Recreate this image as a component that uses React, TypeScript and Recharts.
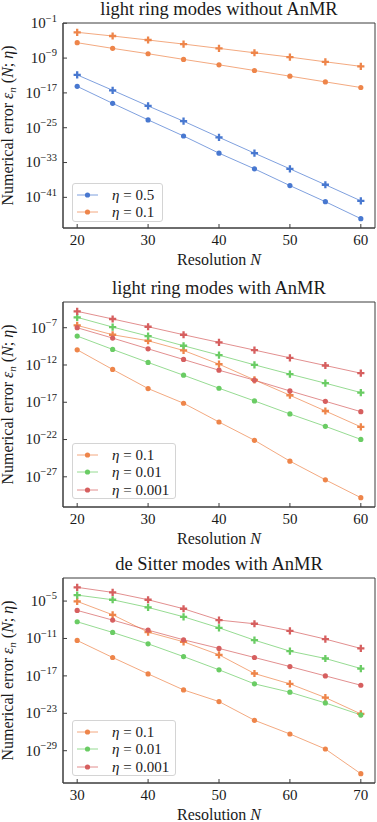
import React from 'react';
import { LineChart, Line, XAxis, YAxis, ReferenceArea } from 'recharts';

const FONT = '"Liberation Serif", "DejaVu Serif", serif';
const INK = '#1a1a1a';
const FRAME = '#3c3c3c';

const BLUE = '#4878d0';
const ORANGE = '#ee854a';
const GREEN = '#6acc64';
const RED = '#d65f5f';

// resolutions on the x axis
const lightRingN = [20, 25, 30, 35, 40, 45, 50, 55, 60];
const deSitterN = [30, 35, 40, 45, 50, 55, 60, 65, 70];

// log10 of the numerical error
// panel 1: light ring modes without AnMR
const noAnmrEta05Dot = [-15.5, -19.4, -23.2, -26.9, -30.85, -34.45, -38.3, -42.0, -45.9];
const noAnmrEta05Plus = [-12.86, -16.4, -20.0, -23.5, -27.2, -30.85, -34.45, -38.1, -41.8];
const noAnmrEta01Dot = [-5.47, -6.77, -8.0, -9.3, -10.55, -11.85, -13.16, -14.47, -15.76];
const noAnmrEta01Plus = [-3.08, -3.93, -4.85, -5.78, -6.77, -7.78, -8.77, -9.86, -10.9];

// panel 2: light ring modes with AnMR
const anmrEta01Dot = [-9.96, -12.6, -15.16, -17.13, -19.65, -22.1, -24.9, -27.4, -29.8];
const anmrEta01Plus = [-6.69, -7.94, -8.75, -10.05, -11.89, -14.0, -16.06, -18.17, -20.3];
const anmrEta001Dot = [-8.12, -9.91, -11.66, -13.37, -15.12, -16.82, -18.57, -20.23, -21.98];
const anmrEta001Plus = [-5.61, -6.91, -8.12, -9.42, -10.68, -11.98, -13.23, -14.44, -15.7];
const anmrEta0001Dot = [-7.0, -8.39, -9.83, -11.26, -12.7, -14.04, -15.48, -16.87, -18.26];
const anmrEta0001Plus = [-4.8, -5.83, -6.87, -7.94, -8.97, -10.0, -11.04, -12.07, -13.1];

// panel 3: de Sitter modes with AnMR
const dsEta01Dot = [-11.32, -14.05, -16.68, -19.25, -21.12, -24.12, -26.32, -28.73, -32.69];
const dsEta01Plus = [-5.05, -7.2, -9.98, -11.53, -13.62, -16.62, -18.28, -20.48, -23.1];
const dsEta001Dot = [-8.32, -10.03, -11.86, -13.9, -16.03, -18.28, -19.62, -21.34, -23.26];
const dsEta001Plus = [-4.04, -4.79, -6.02, -7.52, -9.29, -11.27, -13.03, -14.21, -15.82];
const dsEta0001Dot = [-6.5, -8.05, -9.66, -11.21, -12.6, -14.05, -15.5, -17.0, -18.5];
const dsEta0001Plus = [-2.8, -3.61, -4.79, -6.23, -8.05, -8.64, -9.77, -11.1, -12.6];

// tick positions (x) and tick exponents (y)
const lightRingXTicks = [20, 30, 40, 50, 60];
const deSitterXTicks = [30, 40, 50, 60, 70];
const noAnmrYTicks = [-1, -9, -17, -25, -33, -41];
const anmrYTicks = [-7, -12, -17, -22, -27];
const dsYTicks = [-5, -11, -17, -23, -29];

const PLOT_LEFT = 63;
const PLOT_RIGHT_MARGIN = 2;
const PLOT_TOP = 23;
const PLOT_H = 205;
const PLOT_W = 377 - PLOT_LEFT - PLOT_RIGHT_MARGIN;

type Series = { key: string; values: number[]; color: string; marker: 'dot' | 'plus' };
type LegendItem = { eta: string; color: string };

const circleDot = (color: string) => (p: any) => (
  <circle key={`c-${p.index}`} cx={p.cx} cy={p.cy} r={2.6} fill={color} stroke="none" />
);

const plusDot = (color: string) => (p: any) => {
  const { cx, cy } = p;
  const a = 3.6;
  const w = 1.15;
  const d = `M${cx - w},${cy - a}H${cx + w}V${cy - w}H${cx + a}V${cy + w}H${cx + w}V${cy + a}H${cx - w}V${cy + w}H${cx - a}V${cy - w}H${cx - w}Z`;
  return <path key={`p-${p.index}`} d={d} fill={color} stroke="none" />;
};

const XTick = (p: any) => (
  <g>
    <line x1={p.x} x2={p.x} y1={p.y} y2={p.y - 4} stroke={FRAME} strokeWidth={1} />
    <text x={p.x} y={p.y + 17} textAnchor="middle" fontFamily={FONT} fontSize={15} fill={INK}>
      {p.payload.value}
    </text>
  </g>
);

const YTick = (p: any) => {
  const e = Math.round(Math.log10(p.payload.value));
  return (
    <g>
      <line x1={p.x} x2={p.x + 4} y1={p.y} y2={p.y} stroke={FRAME} strokeWidth={1} />
      <text x={p.x - 6} y={p.y + 4.8} textAnchor="end" fontFamily={FONT} fontSize={15} fill={INK}>
        10
        <tspan dy={-6.5} fontSize={10.5}>{'\u2212' + Math.abs(e)}</tspan>
      </text>
    </g>
  );
};

const Legend = ({ items, top, width }: { items: LegendItem[]; top: number; width: number }) => (
  <div
    style={{
      position: 'absolute',
      left: 72,
      top,
      width,
      height: 21 + 17.6 * (items.length - 1),
      border: '1px solid #d4d4d4',
      borderRadius: 3,
      background: 'rgba(255,255,255,0.8)',
      boxSizing: 'border-box',
      fontFamily: FONT,
      fontSize: 15,
      color: INK,
    }}
  >
    {items.map((it, i) => (
      <div
        key={it.eta}
        style={{ position: 'absolute', left: 3, top: 10.5 + 17.6 * i - 8, height: 16, display: 'flex', alignItems: 'center' }}
      >
        <svg width={22} height={16} style={{ display: 'block' }}>
          <line x1={1} x2={22} y1={8} y2={8} stroke={it.color} strokeOpacity={0.7} strokeWidth={1} />
          <circle cx={11.5} cy={8} r={2.6} fill={it.color} />
        </svg>
        <span style={{ marginLeft: 14, whiteSpace: 'nowrap', lineHeight: '16px' }}>
          <i>η</i> = {it.eta}
        </span>
      </div>
    ))}
  </div>
);

const Panel = ({
  title,
  n,
  series,
  legend,
  legendTop,
  legendWidth,
  xTicks,
  yTicks,
  yLo,
  yHi,
  height,
}: {
  title: string;
  n: number[];
  series: Series[];
  legend: LegendItem[];
  legendTop: number;
  legendWidth: number;
  xTicks: number[];
  yTicks: number[];
  yLo: number;
  yHi: number;
  height: number;
}) => {
  const rows = n.map((v, i) => {
    const row: Record<string, number> = { N: v };
    series.forEach((s) => {
      row[s.key] = Math.pow(10, s.values[i]);
    });
    return row;
  });
  const span = n[n.length - 1] - n[0];
  const xDomain = [n[0] - span * 0.05, n[n.length - 1] + span * 0.05];
  const yDomain = [Math.pow(10, yLo), Math.pow(10, yHi)];
  const cx = PLOT_LEFT + PLOT_W / 2;
  const cy = PLOT_TOP + PLOT_H / 2;

  return (
    <div style={{ position: 'relative', width: 377, height }}>
      <LineChart
        width={377}
        height={height}
        data={rows}
        margin={{ top: PLOT_TOP, right: PLOT_RIGHT_MARGIN, left: 0, bottom: 0 }}
      >
        <XAxis
          dataKey="N"
          type="number"
          domain={xDomain}
          allowDataOverflow
          ticks={xTicks}
          interval={0}
          tickLine={false}
          tickSize={0}
          tickMargin={0}
          tick={(p: any) => <XTick {...p} />}
          axisLine={{ stroke: FRAME, strokeWidth: 1 }}
          height={height - PLOT_TOP - PLOT_H}
          label={() => (
            <g>
              <text x={cx} y={PLOT_TOP - 8} textAnchor="middle" fontFamily={FONT} fontSize={18.5} fill={INK}>
                {title}
              </text>
              <text x={cx} y={PLOT_TOP + PLOT_H + 37} textAnchor="middle" fontFamily={FONT} fontSize={16} fill={INK}>
                Resolution <tspan fontStyle="italic">N</tspan>
              </text>
            </g>
          )}
        />
        <YAxis
          type="number"
          scale="log"
          domain={yDomain}
          allowDataOverflow
          ticks={yTicks.map((e) => Math.pow(10, e))}
          interval={0}
          width={PLOT_LEFT}
          tickLine={false}
          tickSize={0}
          tickMargin={0}
          tick={(p: any) => <YTick {...p} />}
          axisLine={{ stroke: FRAME, strokeWidth: 1 }}
          label={() => (
            <text
              x={13}
              y={cy}
              transform={`rotate(-90 13 ${cy})`}
              textAnchor="middle"
              fontFamily={FONT}
              fontSize={16}
              fill={INK}
            >
              Numerical error <tspan fontStyle="italic">ε</tspan>
              <tspan fontStyle="italic" fontSize={11} dy={3}>n</tspan>
              <tspan dy={-3}> (</tspan>
              <tspan fontStyle="italic">N</tspan>; <tspan fontStyle="italic">η</tspan>)
            </text>
          )}
        />
        <ReferenceArea
          x1={xDomain[0]}
          x2={xDomain[1]}
          y1={yDomain[0]}
          y2={yDomain[1]}
          fill="none"
          fillOpacity={0}
          stroke={FRAME}
          strokeWidth={1}
          ifOverflow="visible"
        />
        {series.map((s) => (
          <Line
            key={s.key}
            dataKey={s.key}
            stroke={s.color}
            strokeOpacity={0.7}
            strokeWidth={1}
            dot={s.marker === 'plus' ? plusDot(s.color) : circleDot(s.color)}
            activeDot={false}
            isAnimationActive={false}
          />
        ))}
      </LineChart>
      <Legend items={legend} top={legendTop} width={legendWidth} />
    </div>
  );
};

const noAnmrSeries: Series[] = [
  { key: 'e05p', values: noAnmrEta05Plus, color: BLUE, marker: 'plus' },
  { key: 'e05d', values: noAnmrEta05Dot, color: BLUE, marker: 'dot' },
  { key: 'e01p', values: noAnmrEta01Plus, color: ORANGE, marker: 'plus' },
  { key: 'e01d', values: noAnmrEta01Dot, color: ORANGE, marker: 'dot' },
];

const anmrSeries: Series[] = [
  { key: 'e01p', values: anmrEta01Plus, color: ORANGE, marker: 'plus' },
  { key: 'e01d', values: anmrEta01Dot, color: ORANGE, marker: 'dot' },
  { key: 'e001p', values: anmrEta001Plus, color: GREEN, marker: 'plus' },
  { key: 'e001d', values: anmrEta001Dot, color: GREEN, marker: 'dot' },
  { key: 'e0001p', values: anmrEta0001Plus, color: RED, marker: 'plus' },
  { key: 'e0001d', values: anmrEta0001Dot, color: RED, marker: 'dot' },
];

const dsSeries: Series[] = [
  { key: 'e01p', values: dsEta01Plus, color: ORANGE, marker: 'plus' },
  { key: 'e01d', values: dsEta01Dot, color: ORANGE, marker: 'dot' },
  { key: 'e001p', values: dsEta001Plus, color: GREEN, marker: 'plus' },
  { key: 'e001d', values: dsEta001Dot, color: GREEN, marker: 'dot' },
  { key: 'e0001p', values: dsEta0001Plus, color: RED, marker: 'plus' },
  { key: 'e0001d', values: dsEta0001Dot, color: RED, marker: 'dot' },
];

const threeEtas: LegendItem[] = [
  { eta: '0.1', color: ORANGE },
  { eta: '0.01', color: GREEN },
  { eta: '0.001', color: RED },
];

export default function App() {
  return (
    <div style={{ position: 'absolute', left: 0, top: 0, width: 377, height: 822, overflow: 'hidden', background: '#fff' }}>
      <div style={{ position: 'absolute', left: 0, top: 0 }}>
        <Panel
          title="light ring modes without AnMR"
          n={lightRingN}
          series={noAnmrSeries}
          legend={[
            { eta: '0.5', color: BLUE },
            { eta: '0.1', color: ORANGE },
          ]}
          legendTop={183}
          legendWidth={91}
          xTicks={lightRingXTicks}
          yTicks={noAnmrYTicks}
          yLo={-48.04}
          yHi={-0.94}
          height={270}
        />
      </div>
      <div style={{ position: 'absolute', left: 0, top: 279 }}>
        <Panel
          title="light ring modes with AnMR"
          n={lightRingN}
          series={anmrSeries}
          legend={threeEtas}
          legendTop={164}
          legendWidth={104}
          xTicks={lightRingXTicks}
          yTicks={anmrYTicks}
          yLo={-31.05}
          yHi={-3.55}
          height={270}
        />
      </div>
      <div style={{ position: 'absolute', left: 0, top: 555 }}>
        <Panel
          title="de Sitter modes with AnMR"
          n={deSitterN}
          series={dsSeries}
          legend={threeEtas}
          legendTop={165}
          legendWidth={104}
          xTicks={deSitterXTicks}
          yTicks={dsYTicks}
          yLo={-34.18}
          yHi={-1.3}
          height={267}
        />
      </div>
    </div>
  );
}
